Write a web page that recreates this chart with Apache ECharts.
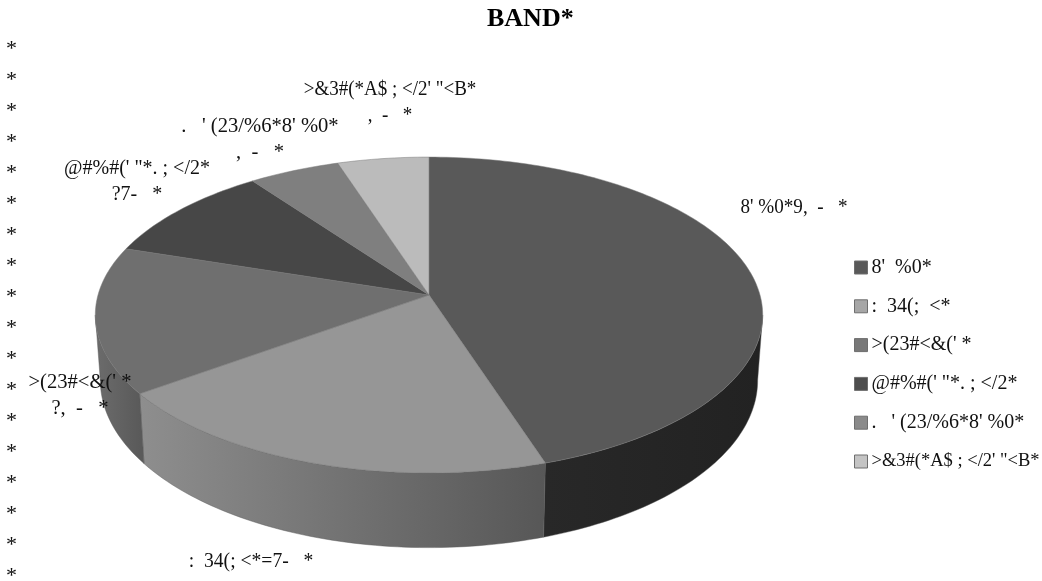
<!DOCTYPE html>
<html><head><meta charset="utf-8">
<style>html,body{margin:0;padding:0;background:#fff}#c{width:1042px;height:581px}</style>
<script src="https://cdn.jsdelivr.net/npm/echarts@6/dist/echarts.min.js"></script>
</head><body><div id="c"></div>
<script>
const categories = ["8'  %0*", ":  34(;  <*", ">(23#<&(' *", "@#%#(' \"*. ; </2*", ".   ' (23/%6*8' %0*", ">&3#(*A$ ; </2' \"<B*"];
const values = [45, 20, 15, 10, 5, 5];
const valueLabels = ["8' %0*9,  -   *", ":  34(; <*=7-   *", ">(23#<&(' *\n?,  -   *", "@#%#(' \"*. ; </2*\n?7-   *", ".   ' (23/%6*8' %0*\n,  -   *", ">&3#(*A$ ; </2' \"<B*\n,  -   *"];
const topColors = ['#595959', '#969696', '#6f6f6f', '#474747', '#7f7f7f', '#bbbbbb'];
const wallColors = [['#282828', '#222222'], ['#8e8e8e', '#575757'], ['#6c6c6c', '#5a5a5a'], ['#333', '#333'], ['#555', '#555'], ['#888', '#888']];
const legendColors = ['#595959', '#a6a6a6', '#787878', '#4d4d4d', '#8a8a8a', '#c4c4c4'];
const legendSizes = [20, 20, 20, 20, 20, 18.5];
const labelAnchors = [[794, 208], [251, 562], [80, 396], [137, 182], [260, 139.5], [390, 103]];
const labelStretch = [0.955, 0.98, 1.03, 1, 1.03, 0.95];
const marginMarks = ['*', '*', '*', '*', '*', '*', '*', '*', '*', '*', '*', '*', '*', '*', '*', '*', '*', '*'];
const title = 'BAND*';

const FONT = '"Liberation Serif", serif';
const total = values.reduce((a, b) => a + b, 0);
const CX = 429, CY = 295, A = 331, B = 155.4, K = 0.1267;
const rim = t => {
  const Y = -Math.cos(t), d = 1 - K * Y;
  return [CX + A * Math.sin(t) / d, CY + B * Y / d];
};
const low = p => [CX + (p[0] - CX) * 0.985, CY + 64 + 1.06 * (p[1] - CY)];
const arc = (a, b) => {
  const pts = [], n = Math.max(2, Math.ceil(Math.abs(b - a) / 0.02));
  for (let i = 0; i <= n; i++) pts.push(rim(a + (b - a) * i / n));
  return pts;
};
const edgeT = Math.acos(-K);

const series = categories.map((name, idx) => ({
  type: 'custom',
  name,
  coordinateSystem: 'none',
  silent: true,
  animation: false,
  itemStyle: { color: topColors[idx] },
  data: [[values[idx]]],
  renderItem: () => {
    const before = values.slice(0, idx).reduce((a, b) => a + b, 0);
    const t0 = before / total * Math.PI * 2;
    const t1 = (before + values[idx]) / total * Math.PI * 2;
    const children = [];
    const w0 = Math.max(t0, edgeT), w1 = Math.min(t1, Math.PI * 2 - edgeT);
    if (w1 > w0) {
      const upper = arc(w0, w1);
      const lower = upper.map(low).reverse();
      children.push({
        type: 'polygon', z2: 1,
        shape: { points: upper.concat(lower) },
        style: {
          fill: { type: 'linear', global: true, x: upper[upper.length - 1][0], y: 0, x2: upper[0][0], y2: 0,
            colorStops: [{ offset: 0, color: wallColors[idx][0] }, { offset: 1, color: wallColors[idx][1] }] },
          stroke: 'rgba(90,90,90,0.55)', lineWidth: 0.8
        }
      });
    }
    children.push({
      type: 'polygon', z2: 10,
      shape: { points: [[CX, CY]].concat(arc(t0, t1)) },
      style: { fill: topColors[idx], stroke: 'rgba(120,120,120,0.7)', lineWidth: 0.7 }
    });
    children.push({
      type: 'text', z2: 20,
      x: labelAnchors[idx][0], y: labelAnchors[idx][1], scaleX: labelStretch[idx],
      style: { text: valueLabels[idx], font: '20px ' + FONT, fill: '#111', align: 'center', verticalAlign: 'middle', lineHeight: 26 }
    });
    return { type: 'group', children };
  }
}));

const chart = echarts.init(document.getElementById('c'), null, { renderer: 'canvas' });
chart.setOption({
  animation: false,
  backgroundColor: '#fff',
  title: {
    text: title, left: 487, top: 6, padding: 0,
    textStyle: { fontFamily: FONT, fontWeight: 'bold', fontSize: 26, color: '#000' }
  },
  legend: {
    orient: 'vertical', left: 854, top: 256, padding: 0, itemWidth: 13, itemHeight: 13, itemGap: 15.8, selectedMode: false,
    textStyle: { fontFamily: FONT, fontSize: 20, color: '#111', padding: [0, 0, 0, -1], lineHeight: 23 },
    data: categories.map((name, i) => ({ name, icon: 'rect', itemStyle: { color: legendColors[i], borderColor: '#6e6e6e', borderWidth: 1 }, textStyle: { fontSize: legendSizes[i] } }))
  },
  graphic: marginMarks.map((text, i) => ({
    type: 'text', left: 6, top: 38 + i * 31, silent: true,
    style: { text, font: '22px ' + FONT, fill: '#111' }
  })),
  series
});
</script></body></html>
